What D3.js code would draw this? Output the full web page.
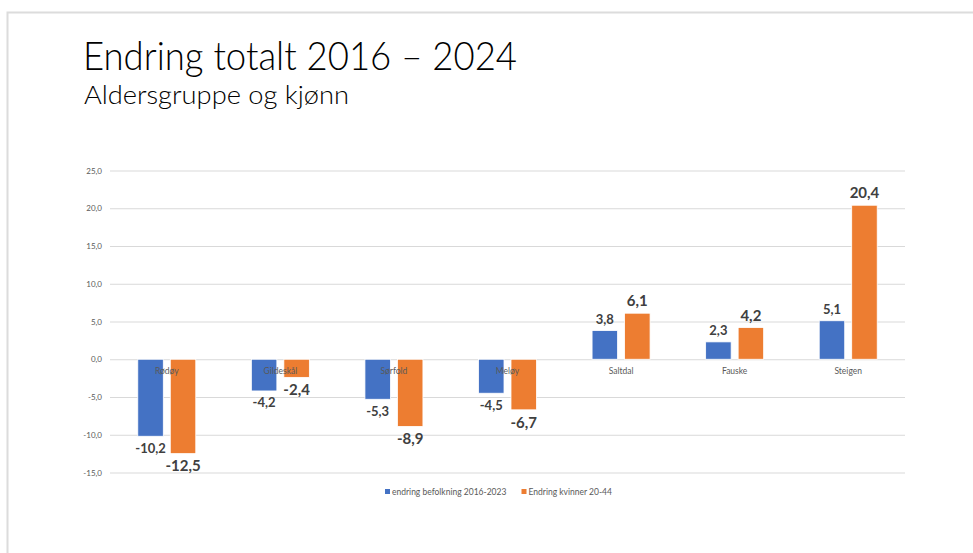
<!DOCTYPE html>
<html>
<head>
<meta charset="utf-8">
<script src="https://cdn.jsdelivr.net/npm/d3@7"></script>
<style>
	body { margin:0; background:#fff }
	svg { display:block }
</style>
</head>
<body>
<div id="chart"></div>
<script>

// kommuner og endring i prosent
let kommuner = ['Rødøy','Gildeskål','Sørfold','Meløy','Saltdal','Fauske','Steigen']
let befolkning = [-10.2, -4.2, -5.3, -4.5, 3.8, 2.3, 5.1]
let kvinner = [-12.5, -2.4, -8.9, -6.7, 6.1, 4.2, 20.4]
let serier = ['endring befolkning 2016-2023', 'Endring kvinner 20-44']
let yTicks = [-15, -10, -5, 0, 5, 10, 15, 20, 25]

let farger = ['#4472C4', '#ED7D31']
let labelSize = [13, 15]
let font = 'Lato, "Open Sans", sans-serif'

let width = 973
let height = 553

let svg = d3.select('#chart').append('svg')
	.attr('width', width).attr('height', height)

// slide ramme
svg.append('path')
	.attr('d', `M7.5,553 V12.5 H973`)
	.attr('fill', 'none').attr('stroke', '#dcdcdc').attr('stroke-width', 2)

svg.append('text').attr('x', 83).attr('y', 70)
	.style('font-family', font).style('font-weight', 300).style('font-size', '39px').attr('fill', '#000')
	.attr('textLength', 434).attr('lengthAdjust', 'spacingAndGlyphs')
	.text('Endring totalt 2016 – 2024')

svg.append('text').attr('x', 84).attr('y', 104)
	.style('font-family', font).style('font-weight', 300).style('font-size', '26px').attr('fill', '#000')
	.attr('textLength', 265).attr('lengthAdjust', 'spacingAndGlyphs')
	.text('Aldersgruppe og kjønn')

// norsk format med vanlig bindestrek som minus
let locale = d3.formatLocale({ decimal: ',', thousands: ' ', grouping: [3], currency: ['', ' kr'], minus: '-' })
let fmt = locale.format('.1f')

let y = d3.scaleLinear().domain([-15, 25]).range([472.5, 170.5])
let x0 = d3.scaleBand().domain(kommuner).range([110, 905])
let bw = x0.bandwidth()
let x1 = d3.scaleBand().domain(serier).range([bw/2 - 29, bw/2 + 29]).paddingInner(0.215)

// rutenett + y-akse
let yAxis = d3.axisLeft(y).tickValues(yTicks).tickSize(-(905 - 110)).tickPadding(8).tickFormat(fmt)
let gy = svg.append('g').attr('transform', 'translate(110,0)').call(yAxis)
gy.select('.domain').remove()
gy.selectAll('line').attr('stroke', '#d9d9d9')
gy.selectAll('text').attr('fill', '#595959').style('font-family', font).style('font-size', '8px')

let data = kommuner.map((k, i) => ({ k, verdier: [befolkning[i], kvinner[i]] }))

let grupper = svg.selectAll('g.gruppe')
	.data(data)
	.enter().append('g').attr('class', 'gruppe')
	.attr('transform', d => `translate(${x0(d.k)},0)`)

grupper.selectAll('rect')
	.data(d => d.verdier.map((v, j) => ({ v, j })))
	.enter().append('rect')
	.attr('x', d => x1(serier[d.j]))
	.attr('width', x1.bandwidth())
	.attr('y', d => y(Math.max(0, d.v)))
	.attr('height', d => Math.abs(y(d.v) - y(0)))
	.attr('fill', d => farger[d.j])
	.attr('stroke', '#fff').attr('stroke-width', 0.8)

// kategori-etiketter (oppå stolpene, som i Excel)
svg.append('g').selectAll('text')
	.data(kommuner)
	.enter().append('text')
	.attr('x', d => x0(d) + bw/2)
	.attr('y', y(0) + 15)
	.attr('text-anchor', 'middle')
	.attr('fill', '#595959')
	.style('font-family', font).style('font-size', '8.5px')
	.text(d => d)

// dataetiketter
grupper.selectAll('text.verdi')
	.data(d => d.verdier.map((v, j) => ({ v, j })))
	.enter().append('text').attr('class', 'verdi')
	.attr('x', d => x1(serier[d.j]) + x1.bandwidth()/2)
	.attr('y', d => d.v >= 0 ? y(d.v) - 7 : y(d.v) + 7 + labelSize[d.j]*0.72)
	.attr('text-anchor', 'middle')
	.attr('fill', '#404040')
	.style('font-family', font).style('font-weight', 700).style('font-size', d => labelSize[d.j] + 'px')
	.text(d => fmt(d.v))

// legende
let legX = [385, 521.5]
let legende = svg.append('g').selectAll('g')
	.data(serier)
	.enter().append('g')
	.attr('transform', (d, i) => `translate(${legX[i]},489)`)

legende.append('rect').attr('width', 5).attr('height', 5)
	.attr('fill', (d, i) => farger[i])

legende.append('text').attr('x', 7).attr('y', 5.5)
	.attr('fill', '#595959')
	.style('font-family', font).style('font-size', '8.5px')
	.text(d => d)

</script>
</body>
</html>
